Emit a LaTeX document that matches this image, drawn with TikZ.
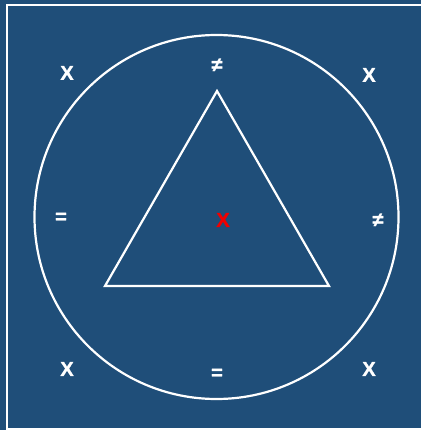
\documentclass[tikz,border=0pt]{standalone}
\usepackage{fontspec}
\setmainfont{Liberation Sans}[BoldFont={Liberation Sans Bold},BoldFeatures={FakeBold=1.2}]
\definecolor{bgblue}{RGB}{31,78,121}
\definecolor{xred}{RGB}{240,0,0}
\begin{document}
\begin{tikzpicture}[x=1pt,y=-1pt,
  lbl/.style={text=white,font=\bfseries\fontsize{20}{20}\selectfont,inner sep=0pt},
  redlbl/.style={lbl,text=xred},
  wline/.style={draw=white,line width=2.2pt}]
\fill[bgblue] (0,0) rectangle (421,430);
\useasboundingbox (0,0) rectangle (421,430);
\draw[wline] (7,5) rectangle (440,429);
\node[wline,circle,minimum size=364pt,inner sep=0pt] (c) at (216.5,217) {};
\coordinate (a) at (217,91);
\coordinate (b) at (105,286);
\coordinate (d) at (329,286);
\draw[wline,line join=miter] (a) -- (b) -- (d) -- cycle;
\node[lbl] (x1) at (67,73) {X};
\node[lbl] (n1) at (217,65) {≠};
\node[lbl] (x2) at (369,75) {X};
\node[lbl] (e1) at (61,218) {=};
\node[lbl] (n2) at (378,220) {≠};
\node[redlbl] (xr) at (223,220) {X};
\node[lbl] (x3) at (67,369) {X};
\node[lbl] (e2) at (217,374) {=};
\node[lbl] (x4) at (369,369) {X};
\end{tikzpicture}
\end{document}
